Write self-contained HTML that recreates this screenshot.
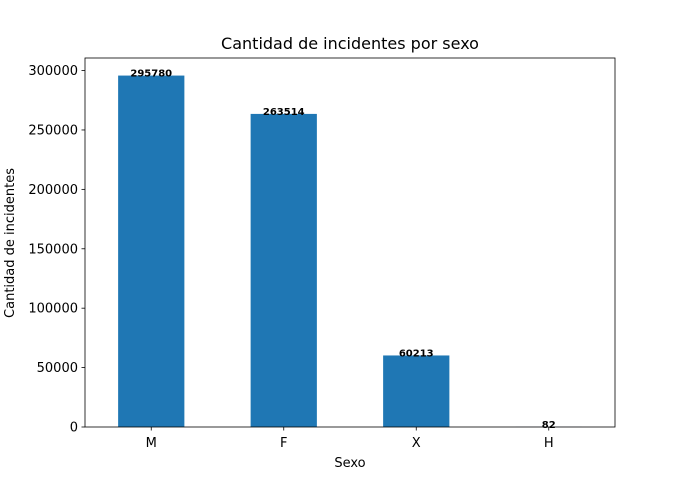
<!DOCTYPE html>
<html><head><meta charset="utf-8"><style>
body{margin:0;background:#fff;}
svg{display:block;font-family:"DejaVu Sans","Liberation Sans",sans-serif;}
</style></head><body>
<svg id="chart" width="683" height="480" viewBox="0 0 683 480">
<rect width="683" height="480" fill="#fff"/>
<text x="350" y="49" font-size="16" text-anchor="middle" fill="#000">Cantidad de incidentes por sexo</text>
<g id="plot"></g>
<rect x="85" y="58" width="530" height="369" fill="none" stroke="#000" stroke-width="0.8"/>
<text x="350" y="467" font-size="13" text-anchor="middle">Sexo</text>
<text transform="translate(14,243) rotate(-90)" font-size="13" text-anchor="middle">Cantidad de incidentes</text>
</svg>
<script>
const categories = ["M","F","X","H"];
const values = [295780,263514,60213,82];
const yTicks = [0,50000,100000,150000,200000,250000,300000];
const plotLeft=85,plotRight=615,plotTop=58,plotBottom=427;
const ymax = Math.max(...values)*1.05;
const xs = i => plotLeft + (i+0.5)*(plotRight-plotLeft)/categories.length;
const ys = v => plotBottom - v/ymax*(plotBottom-plotTop);
const bw = 0.5*(plotRight-plotLeft)/categories.length;
const ns="http://www.w3.org/2000/svg";
const g=document.getElementById('plot');
function mk(tag,attrs,txt){const e=document.createElementNS(ns,tag);for(const k in attrs)e.setAttribute(k,attrs[k]);if(txt!==undefined)e.textContent=txt;g.appendChild(e);return e;}
yTicks.forEach(t=>{
  const y=ys(t);
  const tk=mk('line',{x1:plotLeft-3.5,x2:plotLeft,y1:y,y2:y,stroke:'#000','stroke-width':0.8});
  
  
  const lb=mk('text',{x:plotLeft-7,y:y+4.5,'font-size':13,'text-anchor':'end'},String(t));
  
  
});
categories.forEach((c,i)=>{
  const x=xs(i),v=values[i];
  const b=mk('rect',{x:x-bw/2,y:ys(v),width:bw,height:plotBottom-ys(v),fill:'#1f77b4'});
  
  
  const tk=mk('line',{x1:x,x2:x,y1:plotBottom,y2:plotBottom+3.5,stroke:'#000','stroke-width':0.8});
  
  
  const lb=mk('text',{x:x,y:plotBottom+20,'font-size':13,'text-anchor':'middle'},c);
  
  
  const vl=mk('text',{x:x,y:ys(v)+1,'font-size':10,'font-weight':'bold','text-anchor':'middle'},String(v));
  
  
});
</script>
</body></html>
